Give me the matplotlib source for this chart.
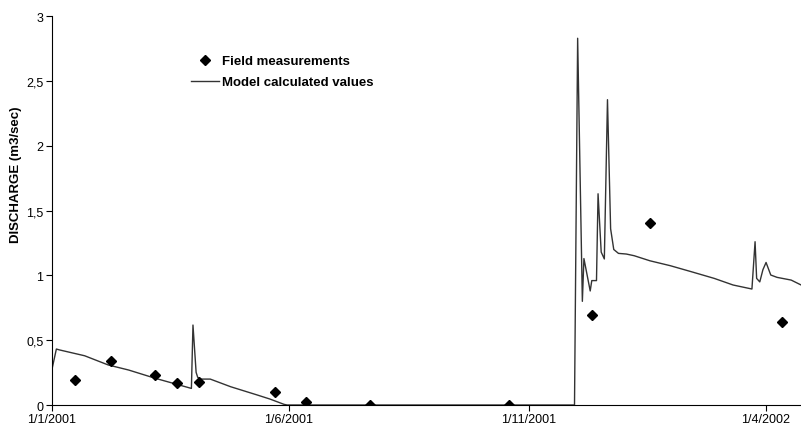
import matplotlib
matplotlib.use("Agg")
import matplotlib.pyplot as plt
import matplotlib.dates as mdates
from matplotlib.ticker import FuncFormatter
import pandas as pd

plt.rcParams['font.family'] = ['Liberation Sans', 'DejaVu Sans']

# model calculated discharge (m3/sec)
model_dates = ['2001-01-01', '2001-01-04', '2001-01-06', '2001-01-22', '2001-02-06',
               '2001-02-19', '2001-03-08', '2001-03-21', '2001-03-31', '2001-04-01',
               '2001-04-03', '2001-04-04', '2001-04-06', '2001-04-12', '2001-04-25',
               '2001-05-12', '2001-05-20', '2001-05-29', '2001-05-31', '2001-11-30',
               '2001-12-02', '2001-12-05', '2001-12-06', '2001-12-10', '2001-12-11',
               '2001-12-14', '2001-12-15', '2001-12-17', '2001-12-19', '2001-12-21',
               '2001-12-23', '2001-12-25', '2001-12-28', '2002-01-02', '2002-01-07',
               '2002-01-17', '2002-01-30', '2002-02-12', '2002-02-27', '2002-03-11',
               '2002-03-23', '2002-03-25', '2002-03-26', '2002-03-28', '2002-03-30',
               '2002-04-01', '2002-04-04', '2002-04-08', '2002-04-17', '2002-04-23']
model_values = [0.265, 0.432, 0.425, 0.38, 0.309,
                0.27, 0.206, 0.162, 0.128, 0.617,
                0.252, 0.214, 0.2, 0.2, 0.141,
                0.077, 0.046, 0.005, 0.0, 0.0,
                2.83, 0.80, 1.13, 0.88, 0.96,
                0.96, 1.63, 1.18, 1.127, 2.356,
                1.36, 1.2, 1.17, 1.165, 1.152,
                1.113, 1.075, 1.03, 0.977, 0.926,
                0.895, 1.26, 0.977, 0.95, 1.044,
                1.1, 1.003, 0.985, 0.964, 0.928]

# field measurements
field_dates = ['2001-01-16', '2001-02-08', '2001-03-08', '2001-03-22', '2001-04-05',
               '2001-05-23', '2001-06-12', '2001-07-23', '2001-10-19', '2001-12-11',
               '2002-01-17', '2002-04-11']
field_values = [0.195, 0.337, 0.231, 0.167, 0.18,
                0.10, 0.023, 0.0, 0.0, 0.692,
                1.407, 0.643]

x_ticks = ['2001-01-01', '2001-06-01', '2001-11-01', '2002-04-01']
x_limits = ['2001-01-01', '2002-04-23']
y_ticks = [0, 0.5, 1, 1.5, 2, 2.5, 3]

model_dates = pd.to_datetime(model_dates)
field_dates = pd.to_datetime(field_dates)

fig = plt.figure(figsize=(8.01, 4.31), dpi=100)
ax = fig.add_axes([0.0645, 0.058, 0.935, 0.902])

ax.plot(model_dates, model_values, color='#333333', lw=1.0,
        label='Model calculated values', zorder=2)
ax.plot(field_dates, field_values, ls='none', marker='D', color='black',
        markersize=5, label='Field measurements', zorder=3)

ax.set_xlim(pd.to_datetime(x_limits))
ax.set_ylim(0, 3)
ax.set_yticks(y_ticks)
ax.yaxis.set_major_formatter(FuncFormatter(lambda v, p: ('%g' % v).replace('.', ',')))
ax.set_xticks(pd.to_datetime(x_ticks))
ax.xaxis.set_major_formatter(FuncFormatter(
    lambda v, p: '%d/%d/%d' % (mdates.num2date(v).day, mdates.num2date(v).month, mdates.num2date(v).year)))

for s in ['top', 'right']:
    ax.spines[s].set_visible(False)
ax.spines['left'].set_linewidth(0.8)
ax.spines['bottom'].set_linewidth(0.8)
ax.tick_params(axis='both', direction='out', length=4, width=0.8, labelsize=9, pad=2)

ax.set_ylabel('DISCHARGE (m3/sec)', fontsize=9.5, fontweight='bold')
ax.yaxis.set_label_coords(-0.0397, 0.594)

handles, labels = ax.get_legend_handles_labels()
leg = ax.legend(handles[::-1], labels[::-1], loc='upper left', bbox_to_anchor=(0.177, 0.917),
                frameon=False, borderpad=0, handlelength=2.12, handletextpad=0.23,
                labelspacing=0.67, prop={'size': 9.5, 'weight': 'bold'})

fig.savefig('out.png', dpi=100)
